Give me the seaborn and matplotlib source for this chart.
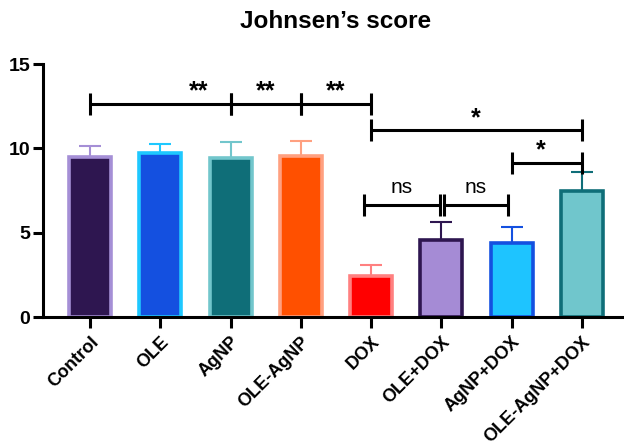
import numpy as np
import pandas as pd
import matplotlib
matplotlib.use("Agg")
import matplotlib.pyplot as plt
import seaborn as sns

# Data
groups = ["Control", "OLE", "AgNP", "OLE-AgNP", "DOX", "OLE+DOX", "AgNP+DOX", "OLE-AgNP+DOX"]
means = [9.5, 9.75, 9.45, 9.55, 2.45, 4.55, 4.4, 7.45]
errors = [0.62, 0.5, 0.9, 0.88, 0.63, 1.1, 0.95, 1.13]
fill_colors = ["#2E1650", "#1450E0", "#0F6E78", "#FF5000", "#FF0000", "#A58BD5", "#1EC4FF", "#70C6CC"]
edge_colors = ["#A58FD6", "#1EC8FF", "#72C6CC", "#FFA080", "#FF8080", "#2E1650", "#1450E0", "#0F6E78"]

# significance brackets: (start, end, height)
bracket_x1 = [0, 2, 3, 4, 6, 3.9, 5.04]
bracket_x2 = [2, 3, 4, 7, 7, 4.98, 5.95]
bracket_y = [12.63, 12.63, 12.63, 11.08, 9.13, 6.64, 6.64]
# labels: (text, x, y)
sig_labels = ["**", "**", "**", "*", "*", "ns", "ns"]
sig_x = [1.55, 2.5, 3.5, 5.49, 6.42, 4.44, 5.49]
sig_y = [13.4, 13.4, 13.4, 11.8, 9.9, 7.65, 7.65]

df = pd.DataFrame({"group": groups, "score": means})

sns.set_style("ticks")
plt.rcParams["font.family"] = ["Liberation Sans", "DejaVu Sans"]
plt.rcParams["text.color"] = "black"
plt.rcParams["xtick.color"] = "black"
plt.rcParams["ytick.color"] = "black"
plt.rcParams["axes.edgecolor"] = "black"

fig = plt.figure(figsize=(6.24, 4.48), dpi=100)
ax = fig.add_axes([43 / 624, 1 - 317 / 448, (624 - 43) / 624, (317 - 64) / 448])

sns.barplot(data=df, x="group", y="score", hue="group", palette=fill_colors,
            saturation=1, errorbar=None, width=0.6, legend=False, ax=ax, zorder=2)

for patch, ec in zip(ax.patches, edge_colors):
    patch.set_edgecolor(ec)
    patch.set_linewidth(2.6)

xs = np.arange(len(groups))
for x, m, e, ec in zip(xs, means, errors, edge_colors):
    ax.errorbar(x, m, yerr=[[0], [e]], fmt="none", ecolor=ec,
                elinewidth=1.5, capsize=8, capthick=1.5, zorder=1)

# brackets
tick_h = 0.65
for x1, x2, y in zip(bracket_x1, bracket_x2, bracket_y):
    ax.plot([x1, x2], [y, y], color="black", lw=2.2, solid_capstyle="butt", clip_on=False)
    ax.plot([x1, x1], [y - tick_h, y + tick_h], color="black", lw=2.2, solid_capstyle="butt", clip_on=False)
    ax.plot([x2, x2], [y - tick_h, y + tick_h], color="black", lw=2.2, solid_capstyle="butt", clip_on=False)

for lab, x, y in zip(sig_labels, sig_x, sig_y):
    if lab == "ns":
        ax.text(x, y, lab, ha="center", va="center", fontsize=15)
    else:
        ax.text(x, y, lab, ha="center", va="center", fontsize=18, fontweight="bold")

ax.set_xlim(-0.67, 7.6)
ax.set_ylim(0, 15)
ax.set_yticks([0, 5, 10, 15])
ax.set_xlabel("")
ax.set_ylabel("")
ax.set_xticks(xs)
ax.set_xticklabels(groups, rotation=45, ha="right", rotation_mode="anchor",
                   fontsize=13, fontweight="bold")
for lbl in ax.get_yticklabels():
    lbl.set_fontsize(14)
    lbl.set_fontweight("bold")

ax.spines["top"].set_visible(False)
ax.spines["right"].set_visible(False)
ax.spines["left"].set_linewidth(2.2)
ax.spines["bottom"].set_linewidth(2.2)
ax.tick_params(axis="y", length=7, width=2.2, pad=2)
ax.tick_params(axis="x", length=8, width=2.2, pad=4)

fig.text(336 / 624, 1 - 22 / 448, "Johnsen\u2019s score", ha="center", va="center",
         fontsize=17.5, fontweight="bold")

fig.savefig("out.png", dpi=100)
